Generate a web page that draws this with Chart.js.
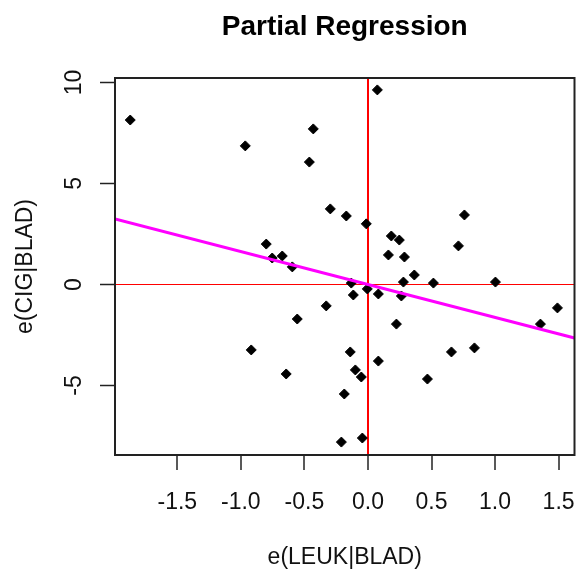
<!DOCTYPE html>
<html>
<head>
<meta charset="utf-8">
<script src="https://cdn.jsdelivr.net/npm/chart.js@4"></script>
<style>
  html, body { margin: 0; padding: 0; background: #fff; }
  #wrap { width: 576px; height: 570px; }
</style>
</head>
<body>
<div id="wrap"><canvas id="partialReg"></canvas></div>
<script>
// residuals e(LEUK|BLAD)
const leukResid = [-1.87, -0.965, -0.43, -0.461, 0.074, -0.296, -0.17, -0.013, -0.8, -0.753,
    -0.674, -0.595, 0.184, 0.247, 0.161, 0.287, 0.759, 0.712, 0.365, 0.279,
    0.515, 1.003, -0.131, -0.115, -0.005, 0.082, 0.263, -0.328, -0.556, 0.224,
    -0.918, -0.139, -0.643, -0.099, -0.052, 0.082, -0.186, 0.468, 0.657, 0.838,
    1.357, 1.491, -0.209, -0.044];
// residuals e(CIG|BLAD)
const cigResid = [8.14, 6.86, 7.7, 6.06, 9.63, 3.74, 3.39, 3.0, 2.0, 1.31,
    1.41, 0.87, 2.4, 2.2, 1.46, 1.36, 3.44, 1.91, 0.47, 0.12,
    0.07, 0.12, 0.07, -0.52, -0.22, -0.47, -0.57, -1.06, -1.71, -1.96,
    -3.24, -3.34, -4.43, -4.23, -4.58, -3.79, -5.42, -4.68, -3.34, -3.14,
    -1.96, -1.16, -7.8, -7.6];

const slope = -1.63;
const xRange = [-1.99, 1.625];
const yRange = [-8.44, 10.22];
const xTickStep = 0.5;
const yTickStep = 5;

const points = leukResid.map((x, i) => ({x: x, y: cigResid[i]}));
const fitLine = xRange.map(x => ({x: x, y: slope * x}));

const FONT = "'Liberation Sans', Arial, sans-serif";

const boxAndLabels = {
    id: 'boxAndLabels',
    afterDraw(chart) {
        const ctx = chart.ctx;
        const a = chart.chartArea;
        ctx.save();
        ctx.strokeStyle = '#222';
        ctx.lineWidth = 2;
        ctx.strokeRect(a.left, a.top, a.right - a.left, a.bottom - a.top);

        // R style vertical y tick labels
        const ys = chart.scales.y;
        ctx.fillStyle = '#111';
        ctx.font = '23px ' + FONT;
        ctx.textAlign = 'center';
        ctx.textBaseline = 'middle';
        ys.ticks.forEach(t => {
            const py = ys.getPixelForValue(t.value);
            ctx.save();
            ctx.translate(75, py);
            ctx.rotate(-Math.PI / 2);
            ctx.fillText(String(t.value), 0, 0);
            ctx.restore();
        });
        ctx.restore();
    }
};

const zeroRed = c => (c.tick && Math.abs(c.tick.value) < 1e-9) ? '#ff0000' : 'rgba(0,0,0,0)';

new Chart(document.getElementById('partialReg'), {
    type: 'scatter',
    data: {
        datasets: [{
            data: points,
            pointStyle: 'rectRot',
            pointRadius: 5,
            pointBackgroundColor: '#000',
            pointBorderColor: '#000',
            pointBorderWidth: 1,
            order: 2
        }, {
            data: fitLine,
            showLine: true,
            borderColor: '#ff00ff',
            borderWidth: 3,
            pointRadius: 0,
            order: 1
        }]
    },
    options: {
        responsive: true,
        maintainAspectRatio: false,
        animation: false,
        layout: { autoPadding: false, padding: { top: 0, right: 1.5, left: 0, bottom: 0 } },
        plugins: {
            legend: { display: false },
            tooltip: { enabled: false },
            title: {
                display: true,
                fullSize: false,
                text: 'Partial Regression',
                color: '#000',
                font: { family: FONT, size: 28, weight: 'bold', lineHeight: 1.2 },
                padding: { top: 10.7, bottom: 33.7 }
            }
        },
        scales: {
            x: {
                type: 'linear',
                min: xRange[0],
                max: xRange[1],
                border: { display: false },
                grid: { color: zeroRed, lineWidth: 2, tickColor: '#222', tickLength: 15, tickWidth: 1.5 },
                ticks: {
                    stepSize: xTickStep,
                    includeBounds: false,
                    maxRotation: 0,
                    padding: 18.5,
                    color: '#111',
                    font: { family: FONT, size: 23 },
                    callback: v => v.toFixed(1)
                },
                title: {
                    display: true,
                    text: 'e(LEUK|BLAD)',
                    color: '#111',
                    font: { family: FONT, size: 23, lineHeight: 1 },
                    padding: { top: 0, bottom: 0.5 }
                },
                afterFit: s => {
                    s.height = 115;
                    s.paddingLeft = 0;
                    s.paddingRight = 0;
                }
            },
            y: {
                type: 'linear',
                min: yRange[0],
                max: yRange[1],
                border: { display: false },
                grid: { color: zeroRed, lineWidth: 1, tickColor: '#222', tickLength: 15, tickWidth: 1.5 },
                ticks: { stepSize: yTickStep, includeBounds: false, display: false },
                title: {
                    display: true,
                    text: 'e(CIG|BLAD)',
                    color: '#111',
                    font: { family: FONT, size: 23, lineHeight: 1 },
                    padding: { top: 14, bottom: 0 }
                },
                afterFit: s => { s.width = 115; }
            }
        }
    },
    plugins: [boxAndLabels]
});
</script>
</body>
</html>
